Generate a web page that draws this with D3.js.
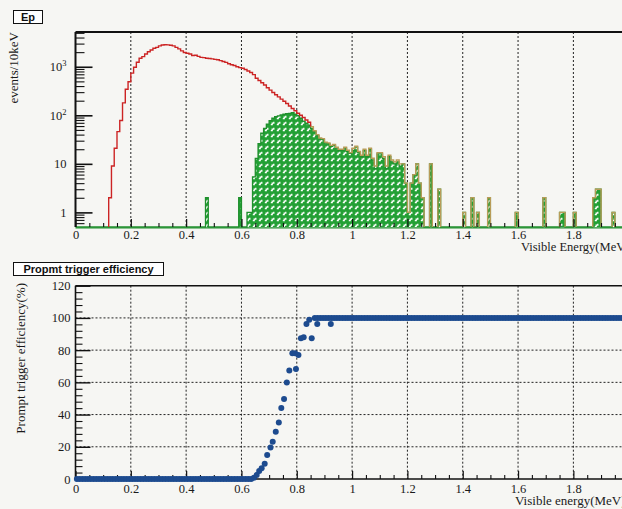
<!DOCTYPE html>
<html><head><meta charset="utf-8">
<script src="https://cdn.jsdelivr.net/npm/d3@7/dist/d3.min.js"></script>
<style>
html,body{margin:0;padding:0;background:#f6f6f3;}
svg{display:block;}
</style></head><body>
<svg id="c" width="622" height="509"></svg>
<script>
// ---------------- DATA ----------------
const binWidth = 0.01; // MeV, histogram bins start at 0
// Delayed-coincidence (triggered) prompt spectrum, events/10keV
const greenCounts = [
  0,0,0,0,0,0,0,0,0,0,
  0,0,0,0,0,0,0,0,0,0,
  0,0,0,0,0,0,0,0,0,0,
  0,0,0,0,0,0,0,0,0,0,
  0,0,0,0,0,0,0,2,0,0,
  0,0,0,0,0,0,0,0,0,2,
  0,0,1,1,5.4,13,26,43,54,66,
  78,87,94,97,102,105,108,110,113,106,
  98,87,76,69,63,54,46,38,33,32,
  27,26,23,24,21,19,19,21,18,16.5,
  19,22,17,14,19,14,20,12,8,16,
  16,13,8,14,11,10,11,9,10,4,
  1,4,6,10,4,2,0,0,10,0,
  0,3,0,0,0,0,0,0,0,0,
  1,0,0,2,0,1,0,0,0,2,
  0,0,0,0,0,0,0,0,0,1,
  0,0,0,0,0,0,0,0,0,2,
  0,0,0,0,0,1,1,0,0,0,
  1,0,0,0,0,0,0,2,3,3,
  0,0,0,0,1,0,0,0,0,0
];
// Total prompt spectrum, events/10keV
const totalCounts = [
  0,0,0,0,0,0,0,0,0,0,
  0,0,2,9,21,46,78,180,345,490,
  740,980,1240,1500,1620,1830,2040,2220,2400,2510,
  2690,2800,2850,2820,2780,2690,2510,2340,2120,1960,
  1900,1830,1700,1720,1640,1560,1540,1500,1480,1450,
  1420,1390,1340,1280,1230,1150,1100,1060,1000,960,
  930,880,820,760,690,580,520,470,420,370,
  330,295,265,240,215,195,175,155,138,124,
  110,100,90,80,72,58,48,40,34,33,
  28,27,24,25,22,20,20,22,19,17,
  21,23,18,15,20,15,21,13,9,17,
  17,14,9,15,12,11,12,10,10,4,
  1,4,6,10,4,2,0,0,10,0,
  0,3,0,0,0,0,0,0,0,0,
  1,0,0,2,0,1,0,0,0,2,
  0,0,0,0,0,0,0,0,0,1,
  0,0,0,0,0,0,0,0,0,2,
  0,0,0,0,0,1,1,0,0,0,
  1,0,0,0,0,0,0,2,3,3,
  0,0,0,0,1,0,0,0,0,0
];
// Prompt trigger efficiency (%) per 10 keV bin (bin centres); null = see ramp points
const effPerBin = [
  0,0,0,0,0,0,0,0,0,0,0,0,0,0,0,0,
  0,0,0,0,0,0,0,0,0,0,0,0,0,0,0,0,
  0,0,0,0,0,0,0,0,0,0,0,0,0,0,0,0,
  0,0,0,0,0,0,0,0,0,0,0,0,0,0,0,0,
  null,null,null,null,null,null,null,null,null,null,null,
  null,null,null,null,null,null,null,null,null,null,null,
  100,100,100,100,100,100,100,100,100,100,
  100,100,100,100,100,100,100,100,100,100,
  100,100,100,100,100,100,100,100,100,100,
  100,100,100,100,100,100,100,100,100,100,
  100,100,100,100,100,100,100,100,100,100,
  100,100,100,100,100,100,100,100,100,100,
  100,100,100,100,100,100,100,100,100,100,
  100,100,100,100,100,100,100,100,100,100,
  100,100,100,100,100,100,100,100,100,100,
  100,100,100,100,100,100,100,100,100,100,
  100,100,100,100,100,100,100,100,100,100,
  100,100,100,100
];
const effRampE = [0.645,0.655,0.664,0.673,0.684,0.693,0.705,0.713,0.724,0.735,0.744,0.754,0.764,0.773,0.784,0.794,0.797,0.806,0.815,0.825,0.835,0.845,0.854,0.874,0.923];
const effRampV = [0.8,2.5,4.9,6.6,9.5,14.9,19.5,23.2,29.4,35,44,49.6,59.9,67.3,78.1,78.1,68.3,77,87.3,88,96.3,98.8,87.3,96.3,96.3];

const xTickValues = [0,0.2,0.4,0.6,0.8,1,1.2,1.4,1.6,1.8,2];
const xTickLabels = ["0","0.2","0.4","0.6","0.8","1","1.2","1.4","1.6","1.8","2"];
const yTopTickValues = [1,10,100,1000];
const yTopTickBase = ["1","10","10","10"];
const yTopTickExp = ["","","2","3"];
const yBotTickValues = [0,20,40,60,80,100,120];
const yBotTickLabels = ["0","20","40","60","80","100","120"];

// ---------------- LAYOUT ----------------
const svg = d3.select("#c");
const xLeft = 75.5, xRight = 628.7;
const topT = 32, topB = 227;
const botT = 285.7, botB = 479;
const xs = d3.scaleLinear().domain([0,2]).range([xLeft,xRight]);
const yT = d3.scaleLog().domain([0.5,5200]).range([topB,topT]);
const yB = d3.scaleLinear().domain([0,120]).range([botB,botT]);

const serif = "'Liberation Serif','Times New Roman',serif";
const sans = "'Liberation Sans',Arial,sans-serif";
const green = "#23a035", greenLine = "#1f8f2c", red = "#cc2424", tan = "#b89c58", blue = "#1d4b8f";

const defs = svg.append("defs");
const pat = defs.append("pattern").attr("id","hatch").attr("patternUnits","userSpaceOnUse")
  .attr("width",6).attr("height",6);
pat.append("rect").attr("width",6).attr("height",6).attr("fill",green);
pat.append("path").attr("d","M0.8,4.6 L2.2,4.6 L2.2,3.2 L3.8,3.2 L3.8,1.8").attr("stroke","#fff")
  .attr("stroke-width",1.3).attr("fill","none");
defs.append("clipPath").attr("id","clipTop").append("rect")
  .attr("x",xLeft).attr("y",topT).attr("width",xRight-xLeft).attr("height",topB-topT+1);

// ---------------- TOP PANEL ----------------
svg.append("g").selectAll("line").data(xTickValues.slice(1,-1)).join("line")
  .attr("x1",d=>xs(d)).attr("x2",d=>xs(d)).attr("y1",topT).attr("y2",topB)
  .attr("stroke","#222").attr("stroke-width",1).attr("stroke-dasharray","2,2");

const hv = v => yT(Math.max(v,0.5));
function stepPts(vals,i0,i1){
  const p=[];
  for(let i=i0;i<=i1;i++){ const y=hv(vals[i]); p.push([xs(i*binWidth),y],[xs((i+1)*binWidth),y]); }
  return p;
}
const gHist = svg.append("g").attr("clip-path","url(#clipTop)");
const gp = stepPts(greenCounts,0,greenCounts.length-1);
gHist.append("path").attr("d", d3.area().x(d=>d[0]).y0(topB).y1(d=>d[1])(gp))
  .attr("fill","url(#hatch)");
gHist.append("path").attr("d", d3.line()(gp)).attr("fill","none")
  .attr("stroke",greenLine).attr("stroke-width",1.3);

const splitIdx = 85;
const redPts = [[xs(12*binWidth),topB]].concat(stepPts(totalCounts,12,splitIdx-1));
redPts.push([xs(splitIdx*binWidth), hv(totalCounts[splitIdx])]);
gHist.append("path").attr("d", d3.line()(redPts)).attr("fill","none")
  .attr("stroke",red).attr("stroke-width",1.4);
let i=splitIdx;
while(i<totalCounts.length){
  if(totalCounts[i]>0){
    let j=i; while(j+1<totalCounts.length && totalCounts[j+1]>0) j++;
    const pts = stepPts(totalCounts,i,j);
    if(i!==splitIdx) pts.unshift([xs(i*binWidth),topB]);
    pts.push([xs((j+1)*binWidth),topB]);
    gHist.append("path").attr("d", d3.line()(pts)).attr("fill","none")
      .attr("stroke",tan).attr("stroke-width",1.4);
    i=j+1;
  } else i++;
}

const minorLog = [];
[0.1,1,10,100,1000].forEach(dec=>{ for(let k=2;k<=9;k++){ const v=k*dec; if(v>0.5 && v<5200 && v!==1 && v!==10 && v!==100 && v!==1000) minorLog.push(v);} });
svg.append("g").attr("transform",`translate(${xLeft},0)`)
  .call(d3.axisLeft(yT).tickValues(minorLog).tickSizeInner(-9).tickSizeOuter(0).tickFormat(""))
  .call(g=>g.select(".domain").remove())
  .call(g=>g.selectAll("line").attr("stroke","#111").attr("stroke-width",1.1));
svg.append("g").attr("transform",`translate(${xLeft},0)`)
  .call(d3.axisLeft(yT).tickValues(yTopTickValues).tickSizeInner(-17).tickSizeOuter(0).tickFormat(""))
  .call(g=>g.select(".domain").remove())
  .call(g=>g.selectAll("line").attr("stroke","#111").attr("stroke-width",1.6));
const ylab = svg.append("g").selectAll("text").data(yTopTickValues).join("text")
  .attr("x",xLeft-9).attr("y",d=>yT(d)+4.5).attr("text-anchor","end")
  .attr("font-family",serif).attr("font-size",12.5).attr("fill","#1a1a1a");
ylab.append("tspan").text((d,k)=>yTopTickBase[k]);
ylab.append("tspan").attr("dy",-5).attr("font-size",8.5).text((d,k)=>yTopTickExp[k]);

const minorX = d3.range(0,2.0001,0.05).filter(v=>Math.abs(v/0.2-Math.round(v/0.2))>1e-6);
function xAxis(y, pad){
  svg.append("g").attr("transform",`translate(0,${y})`)
    .call(d3.axisBottom(xs).tickValues(minorX).tickSizeInner(-4).tickSizeOuter(0).tickFormat(""))
    .call(g=>g.select(".domain").remove())
    .call(g=>g.selectAll("line").attr("stroke","#111").attr("stroke-width",1.1));
  svg.append("g").attr("transform",`translate(0,${y})`)
    .call(d3.axisBottom(xs).tickValues(xTickValues).tickSizeInner(-8).tickSizeOuter(0).tickPadding(pad)
      .tickFormat((d,k)=>xTickLabels[k]))
    .call(g=>g.select(".domain").remove())
    .call(g=>g.selectAll("line").attr("stroke","#111").attr("stroke-width",1.2))
    .call(g=>g.selectAll("text").attr("font-family",serif).attr("font-size",12.5).attr("fill","#1a1a1a"));
}
xAxis(topB,3);

svg.append("line").attr("x1",xLeft).attr("x2",622).attr("y1",topT).attr("y2",topT).attr("stroke","#111").attr("stroke-width",2);
svg.append("line").attr("x1",xLeft).attr("x2",xLeft).attr("y1",topT).attr("y2",topB).attr("stroke","#111").attr("stroke-width",2);
svg.append("line").attr("x1",xLeft).attr("x2",622).attr("y1",topB+0.8).attr("y2",topB+0.8).attr("stroke",greenLine).attr("stroke-width",1.2);

svg.append("text").attr("transform",`translate(18,${topT}) rotate(-90)`).attr("text-anchor","end")
  .attr("font-family",serif).attr("font-size",13).attr("fill","#1a1a1a").text("events/10keV");
svg.append("text").attr("x",521).attr("y",250.5).attr("font-family",serif).attr("font-size",12.5)
  .attr("fill","#1a1a1a").text("Visible Energy(MeV)");

svg.append("rect").attr("x",13.5).attr("y",10.5).attr("width",29).attr("height",13)
  .attr("fill","#fff").attr("stroke","#111").attr("stroke-width",1);
svg.append("text").attr("x",28).attr("y",21).attr("text-anchor","middle").attr("font-family",sans)
  .attr("font-weight","bold").attr("font-size",11).attr("fill","#111").text("Ep");

// ---------------- BOTTOM PANEL ----------------
svg.append("g").selectAll("line").data(xTickValues.slice(1,-1)).join("line")
  .attr("x1",d=>xs(d)).attr("x2",d=>xs(d)).attr("y1",botT).attr("y2",botB)
  .attr("stroke","#222").attr("stroke-width",1).attr("stroke-dasharray","2,2");
svg.append("g").selectAll("line").data(yBotTickValues.slice(1,-1)).join("line")
  .attr("x1",xLeft).attr("x2",622).attr("y1",d=>yB(d)).attr("y2",d=>yB(d))
  .attr("stroke","#222").attr("stroke-width",1).attr("stroke-dasharray","2,2");

svg.append("g").attr("transform",`translate(${xLeft},0)`)
  .call(d3.axisLeft(yB).tickValues(d3.range(4,120,4).filter(v=>v%20!==0)).tickSizeInner(-7).tickSizeOuter(0).tickFormat(""))
  .call(g=>g.select(".domain").remove())
  .call(g=>g.selectAll("line").attr("stroke","#111").attr("stroke-width",1.1));
svg.append("g").attr("transform",`translate(${xLeft},0)`)
  .call(d3.axisLeft(yB).tickValues(yBotTickValues).tickSizeInner(-15).tickSizeOuter(0).tickPadding(5)
    .tickFormat((d,k)=>yBotTickLabels[k]))
  .call(g=>g.select(".domain").remove())
  .call(g=>g.selectAll("line").attr("stroke","#111").attr("stroke-width",1.4))
  .call(g=>g.selectAll("text").attr("font-family",serif).attr("font-size",12.5).attr("fill","#1a1a1a"));
xAxis(botB,5);

svg.append("line").attr("x1",xLeft).attr("x2",622).attr("y1",botT).attr("y2",botT).attr("stroke","#111").attr("stroke-width",1.6);
svg.append("line").attr("x1",xLeft).attr("x2",xLeft).attr("y1",botT).attr("y2",botB).attr("stroke","#111").attr("stroke-width",1.6);
svg.append("line").attr("x1",xLeft).attr("x2",622).attr("y1",botB).attr("y2",botB).attr("stroke","#111").attr("stroke-width",1.4);

const effPts = [];
effPerBin.forEach((v,k)=>{ if(v!==null) effPts.push([(k+0.5)*binWidth, v]); });
effRampE.forEach((e,k)=>effPts.push([e, effRampV[k]]));
svg.append("g").selectAll("circle").data(effPts).join("circle")
  .attr("cx",d=>xs(d[0])).attr("cy",d=>yB(d[1])).attr("r",3).attr("fill",blue);

svg.append("text").attr("transform",`translate(25,283) rotate(-90)`).attr("text-anchor","end")
  .attr("font-family",serif).attr("font-size",13).attr("fill","#1a1a1a").text("Prompt trigger efficiency(%)");
svg.append("text").attr("x",515).attr("y",505).attr("font-family",serif).attr("font-size",13)
  .attr("fill","#1a1a1a").text("Visible energy(MeV)");

svg.append("rect").attr("x",13.5).attr("y",262.5).attr("width",150).attr("height",13)
  .attr("fill","#fff").attr("stroke","#111").attr("stroke-width",1);
svg.append("text").attr("x",88.5).attr("y",273).attr("text-anchor","middle").attr("font-family",sans)
  .attr("font-weight","bold").attr("font-size",11).attr("fill","#111").text("Propmt trigger efficiency");
</script>
</body></html>
